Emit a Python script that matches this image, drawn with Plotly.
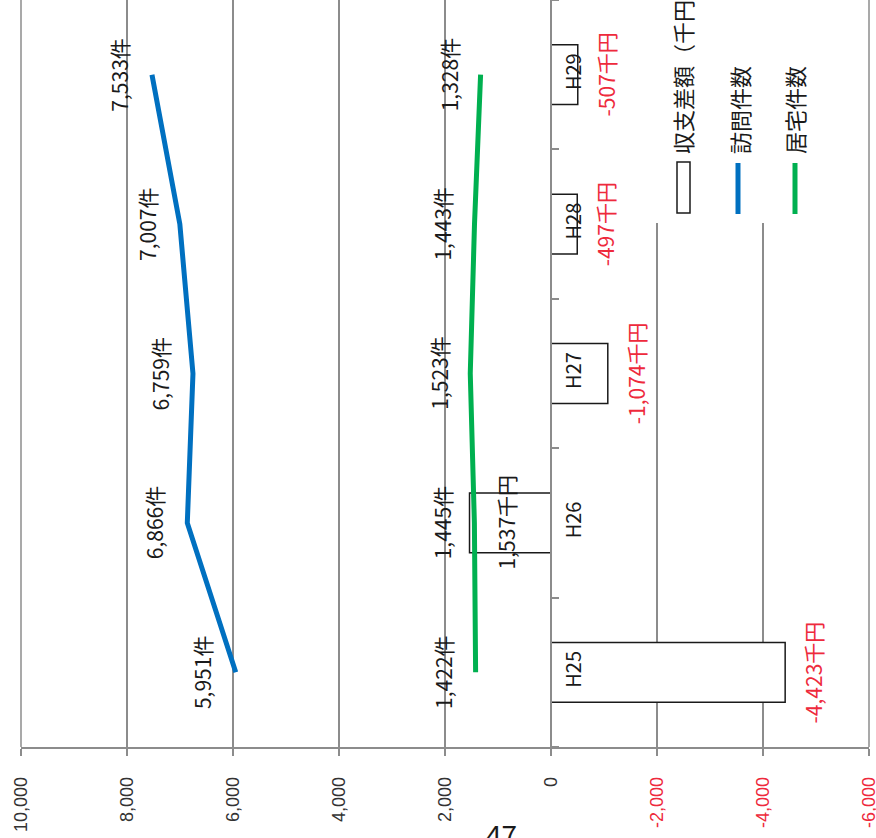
import plotly.graph_objects as go

# 年度別データ
years = ["H25", "H26", "H27", "H28", "H29"]
balance = [-4423, 1537, -1074, -497, -507]   # 収支差額（千円）
visits = [5951, 6866, 6759, 7007, 7533]      # 訪問件数
home = [1422, 1445, 1523, 1443, 1328]        # 居宅件数
tick_vals = [10000, 8000, 6000, 4000, 2000, 0, -2000, -4000, -6000]

RED = "#EE2A3C"
GRID = "#8C8C8C"
BLUE = "#0070C0"
GREEN = "#00B050"
JP = "Noto Sans CJK JP"

W, H = 876, 838
L, R, T, B = 21, 7, 0, 91
PW, PH = W - L - R, H - T - B


def px(xp):
    return (xp - L) / PW


def py(yp):
    return (PH - (yp - T)) / PH


tick_text = [
    f'<span style="color:{RED}">{v:,}</span>' if v < 0 else f"{v:,}"
    for v in tick_vals
]

fig = go.Figure()
fig.add_trace(go.Bar(
    x=balance, y=years, orientation="h", width=0.4,
    marker=dict(color="white", line=dict(color="#1A1A1A", width=1.5)),
    name="収支差額（千円）", showlegend=False, hoverinfo="skip",
))
fig.add_trace(go.Scatter(
    x=visits, y=years, mode="lines", name="訪問件数",
    line=dict(color=BLUE, width=5), showlegend=False,
))
fig.add_trace(go.Scatter(
    x=home, y=years, mode="lines", name="居宅件数",
    line=dict(color=GREEN, width=5), showlegend=False,
))

ann = []
for yr, v in zip(years, visits):
    ann.append(dict(x=v, y=yr, text=f"{v:,}件", textangle=-90, xshift=-33,
                    showarrow=False, font=dict(family=JP, size=21, color="#1A1A1A")))
for yr, v in zip(years, home):
    ann.append(dict(x=v, y=yr, text=f"{v:,}件", textangle=-90, xshift=-32,
                    showarrow=False, font=dict(family=JP, size=21, color="#1A1A1A")))
for yr, v in zip(years, balance):
    ann.append(dict(x=v, y=yr, text=f"{v:,}千円", textangle=-90,
                    xshift=28 if v < 0 else 36, showarrow=False,
                    font=dict(family=JP, size=21, color=RED if v < 0 else "#1A1A1A")))

# 凡例（縦書き）
legend_items = [
    ("収支差額（千円）", 682),
    ("訪問件数", 739),
    ("居宅件数", 794),
]
for label, xc in legend_items:
    ann.append(dict(xref="paper", yref="paper", x=px(xc), y=py(156),
                    xanchor="center", yanchor="bottom", text=label, textangle=-90,
                    showarrow=False, font=dict(family=JP, size=22, color="#1A1A1A")))

ann.append(dict(xref="paper", yref="paper", x=px(501), y=py(812),
                xanchor="center", yanchor="top", text="47", showarrow=False,
                font=dict(family=JP, size=28, color="#1A1A1A")))

shapes = [
    # 凡例の背景と記号
    dict(type="rect", xref="paper", yref="paper", layer="above",
         x0=px(628), x1=px(865), y0=py(223), y1=1.02,
         fillcolor="white", line=dict(width=0)),
    dict(type="rect", xref="paper", yref="paper", layer="above",
         x0=px(677), x1=px(690), y0=py(213), y1=py(162),
         fillcolor="white", line=dict(color="#1A1A1A", width=1.5)),
    dict(type="line", xref="paper", yref="paper", layer="above",
         x0=px(738), x1=px(738), y0=py(214), y1=py(163),
         line=dict(color=BLUE, width=5)),
    dict(type="line", xref="paper", yref="paper", layer="above",
         x0=px(795), x1=px(795), y0=py(214), y1=py(163),
         line=dict(color=GREEN, width=5)),
    # 外枠の左右の縦線（10,000 と -6,000）
    dict(type="line", xref="paper", yref="paper", layer="above",
         x0=0, x1=0, y0=0, y1=1, line=dict(color=GRID, width=1.5)),
    dict(type="line", xref="paper", yref="paper", layer="above",
         x0=1, x1=1, y0=0, y1=1, line=dict(color=GRID, width=1.5)),
]

fig.update_layout(
    width=W, height=H,
    margin=dict(l=L, r=R, t=T, b=B, pad=0, autoexpand=False),
    paper_bgcolor="white", plot_bgcolor="white",
    showlegend=False,
    annotations=ann, shapes=shapes,
    xaxis=dict(
        range=[10006, -6006], tickvals=tick_vals, ticktext=tick_text,
        tickangle=-90, ticks="outside", ticklen=7, tickwidth=1.5, tickcolor=GRID,
        showgrid=True, gridcolor=GRID, gridwidth=1.5,
        showline=True, linecolor=GRID, linewidth=1.5, zeroline=False,
        tickfont=dict(family="Liberation Sans", size=18, color="#333333"),
        ticklabelstandoff=14, ticklabeloverflow="allow", automargin=False,
    ),
    yaxis=dict(
        type="category", categoryorder="array", categoryarray=years,
        range=[-0.5, 4.5], anchor="free", position=10006 / 16012, side="right",
        showline=True, linecolor=GRID, linewidth=1.5,
        ticks="outside", ticklen=7, tickwidth=1.5, tickcolor=GRID,
        tickson="boundaries", tickangle=-90, showgrid=False, zeroline=False,
        tickfont=dict(family=JP, size=20, color="#1A1A1A"),
        ticklabelstandoff=5, automargin=False,
    ),
)

fig.write_html("out.html")
